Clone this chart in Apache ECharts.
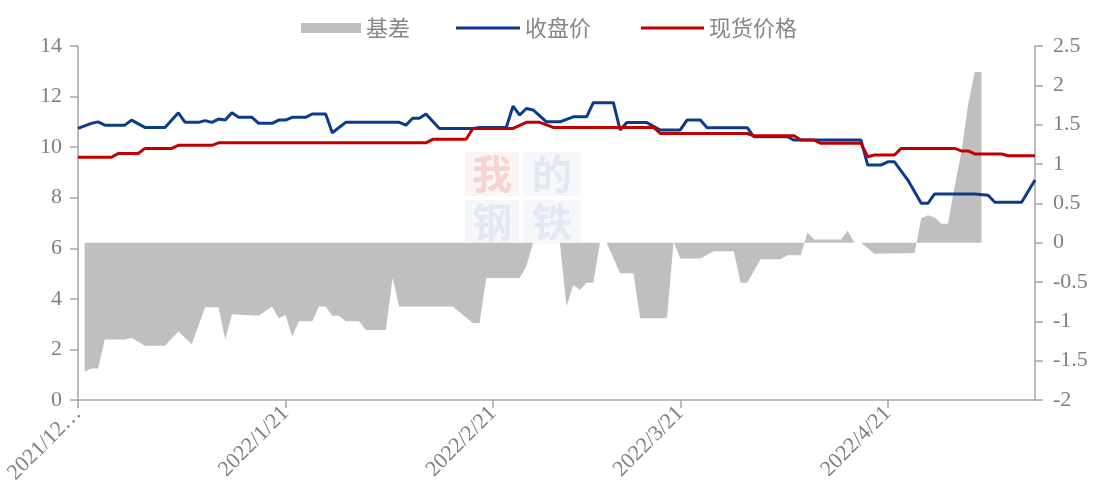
<!DOCTYPE html>
<html><head><meta charset="utf-8">
<script src="https://cdn.jsdelivr.net/npm/echarts@6/dist/echarts.min.js"></script>
<style>html,body{margin:0;padding:0;background:#fff}#c{width:1102px;height:504px}</style>
</head><body><div id="c"></div>
<script>
// ---- data ----
const firstDay = [2021, 12, 21];
const lastDay = [2022, 5, 13];
const tickDays = ['2021/12/21', '2022/1/21', '2022/2/21', '2022/3/21', '2022/4/21'];
const firstTickLabel = '2021/12…';
const seriesNames = ['基差', '收盘价', '现货价格'];

const closeDates = ['2021/12/21','2021/12/23','2021/12/24','2021/12/25','2021/12/28','2021/12/29','2021/12/31',
 '2022/1/3','2022/1/5','2022/1/6','2022/1/8','2022/1/9','2022/1/10','2022/1/11','2022/1/12','2022/1/13','2022/1/14',
 '2022/1/16','2022/1/17','2022/1/19','2022/1/20','2022/1/21','2022/1/22','2022/1/24','2022/1/25','2022/1/27','2022/1/28',
 '2022/1/30','2022/2/7','2022/2/8','2022/2/9','2022/2/10','2022/2/11','2022/2/13','2022/2/18','2022/2/19','2022/2/23',
 '2022/2/24','2022/2/25','2022/2/26','2022/2/27','2022/3/1','2022/3/3','2022/3/5','2022/3/7','2022/3/8','2022/3/11',
 '2022/3/12','2022/3/13','2022/3/16','2022/3/18','2022/3/21','2022/3/22','2022/3/24','2022/3/25','2022/3/31','2022/4/1',
 '2022/4/6','2022/4/7','2022/4/17','2022/4/18','2022/4/20','2022/4/21','2022/4/22','2022/4/24','2022/4/26','2022/4/27',
 '2022/4/28','2022/5/4','2022/5/6','2022/5/7','2022/5/11','2022/5/13'];
const closeValues = [10.74,10.94,11.0,10.87,10.87,11.07,10.78,
 10.78,11.36,10.98,10.98,11.05,10.98,11.11,11.07,11.36,11.18,
 11.18,10.94,10.94,11.07,11.07,11.18,11.18,11.31,11.31,10.57,
 10.98,10.98,10.87,11.14,11.14,11.31,10.74,10.74,10.78,10.78,
 11.62,11.27,11.53,11.47,11.0,11.0,11.2,11.2,11.76,11.76,
 10.68,10.97,10.97,10.68,10.68,11.07,11.07,10.77,10.77,10.41,
 10.41,10.28,10.28,9.29,9.29,9.42,9.42,8.7,7.78,7.78,
 8.15,8.15,8.1,7.82,7.82,8.7];

const spotDates = ['2021/12/21','2021/12/26','2021/12/27','2021/12/30','2021/12/31','2022/1/4','2022/1/5','2022/1/10',
 '2022/1/11','2022/2/11','2022/2/12','2022/2/17','2022/2/18','2022/2/24','2022/2/26','2022/2/28','2022/3/2','2022/3/17',
 '2022/3/18','2022/3/31','2022/4/1','2022/4/7','2022/4/8','2022/4/10','2022/4/11','2022/4/17','2022/4/18','2022/4/19',
 '2022/4/22','2022/4/23','2022/5/1','2022/5/2','2022/5/3','2022/5/4','2022/5/8','2022/5/9','2022/5/13'];
const spotValues = [9.6,9.6,9.75,9.75,9.95,9.95,10.07,10.07,
 10.17,10.17,10.31,10.31,10.74,10.74,10.98,10.98,10.78,10.78,
 10.54,10.54,10.45,10.45,10.28,10.28,10.15,10.15,9.62,9.69,
 9.69,9.95,9.95,9.85,9.85,9.73,9.73,9.66,9.66];

const basisDates = ['2021/12/22','2021/12/23','2021/12/24','2021/12/25','2021/12/28','2021/12/29','2021/12/31','2022/1/3',
 '2022/1/5','2022/1/7','2022/1/9','2022/1/11','2022/1/12','2022/1/13','2022/1/17','2022/1/19','2022/1/20','2022/1/21',
 '2022/1/22','2022/1/23','2022/1/25','2022/1/26','2022/1/27','2022/1/28','2022/1/29','2022/1/30','2022/2/1','2022/2/2',
 '2022/2/5','2022/2/6','2022/2/7','2022/2/15','2022/2/18','2022/2/19','2022/2/20','2022/2/25','2022/2/26','2022/2/27',
 '2022/3/2','2022/3/3','2022/3/4','2022/3/5','2022/3/6','2022/3/7','2022/3/8','2022/3/9','2022/3/10','2022/3/12',
 '2022/3/14','2022/3/15','2022/3/19','2022/3/20','2022/3/21','2022/3/24','2022/3/26','2022/3/29','2022/3/30','2022/3/31',
 '2022/4/2','2022/4/5','2022/4/6','2022/4/8','2022/4/9','2022/4/10','2022/4/14','2022/4/15','2022/4/16','2022/4/17',
 '2022/4/19','2022/4/25','2022/4/26','2022/4/27','2022/4/28','2022/4/29','2022/4/30','2022/5/1','2022/5/2','2022/5/3',
 '2022/5/4','2022/5/5'];
const basisValues = [-1.64,-1.6,-1.6,-1.23,-1.23,-1.21,-1.31,-1.31,
 -1.13,-1.29,-0.82,-0.82,-1.23,-0.91,-0.93,-0.81,-0.96,-0.92,
 -1.19,-1.0,-1.0,-0.81,-0.81,-0.93,-0.93,-1.0,-1.0,-1.11,
 -1.11,-0.45,-0.81,-0.81,-1.02,-1.02,-0.45,-0.45,-0.3,0,
 0,0,-0.81,-0.54,-0.6,-0.51,-0.51,0,0,-0.39,
 -0.39,-0.96,-0.96,0.01,-0.2,-0.2,-0.11,-0.11,-0.51,-0.51,
 -0.21,-0.21,-0.16,-0.16,0.13,0.04,0.04,0.15,0,0,
 -0.14,-0.13,0.31,0.35,0.32,0.24,0.24,0.72,1.15,1.75,
 2.17,2.17];

// ---- build ----
function fmt(d) { return d.getFullYear() + '/' + (d.getMonth() + 1) + '/' + d.getDate(); }
const dates = [];
for (let d = new Date(firstDay[0], firstDay[1] - 1, firstDay[2], 12); d <= new Date(lastDay[0], lastDay[1] - 1, lastDay[2], 12); d.setDate(d.getDate() + 1)) {
  dates.push(fmt(d));
}
const zip = (a, b) => a.map((x, i) => [x, b[i]]);

const grey = '#7f7f7f';
const axisColor = '#a6a6a6';
const numFont = { fontFamily: 'Liberation Serif', fontSize: 22, color: grey };
const legendFont = { fontFamily: 'Noto Sans CJK SC', fontSize: 22, color: '#868686' };
const showTick = (idx, val) => tickDays.indexOf(val) >= 0;

const chart = echarts.init(document.getElementById('c'));
chart.setOption({
  animation: false,
  backgroundColor: '#fff',
  grid: { left: 78, right: 67, top: 46, bottom: 104, containLabel: false },
  legend: [
    { left: 296, top: 12, itemWidth: 60, itemHeight: 10, data: [{ name: seriesNames[0], icon: 'rect' }], textStyle: legendFont },
    { left: 451, top: 12, itemWidth: 64, itemHeight: 3, data: [{ name: seriesNames[1], icon: 'rect' }], textStyle: legendFont },
    { left: 636, top: 12, itemWidth: 63, itemHeight: 3, data: [{ name: seriesNames[2], icon: 'rect' }], textStyle: legendFont }
  ],
  xAxis: {
    type: 'category', data: dates, boundaryGap: false,
    axisLine: { onZero: false, lineStyle: { color: axisColor, width: 1.5 } },
    axisTick: { show: true, interval: showTick, length: 8, lineStyle: { color: axisColor, width: 1.5 } },
    axisLabel: Object.assign({ interval: showTick, rotate: 45, margin: 10,
      formatter: (v, i) => (v === tickDays[0] ? firstTickLabel : v) }, numFont),
    splitLine: { show: false }
  },
  yAxis: [
    { type: 'value', min: 0, max: 14, interval: 2, position: 'left',
      axisLine: { show: true, lineStyle: { color: axisColor, width: 1.5 } },
      axisTick: { show: true, length: 8, lineStyle: { color: axisColor, width: 1.5 } },
      axisLabel: Object.assign({ margin: 16 }, numFont),
      splitLine: { show: false } },
    { type: 'value', min: -2, max: 2.5, interval: 0.5, position: 'right',
      axisLine: { show: true, lineStyle: { color: axisColor, width: 1.5 } },
      axisTick: { show: true, length: 8, lineStyle: { color: axisColor, width: 1.5 } },
      axisLabel: Object.assign({ margin: 18 }, numFont),
      splitLine: { show: false } }
  ],
  graphic: {
    elements: [
      { type: 'group', left: 465, top: 152, z: -10, silent: true, children: [
        { type: 'rect', shape: { x: 0, y: 0, width: 54, height: 44 }, style: { fill: '#fdf4f4' } },
        { type: 'rect', shape: { x: 58, y: 0, width: 58, height: 44 }, style: { fill: '#f6f7fb' } },
        { type: 'rect', shape: { x: 0, y: 48, width: 54, height: 44 }, style: { fill: '#f6f7fb' } },
        { type: 'rect', shape: { x: 58, y: 48, width: 58, height: 44 }, style: { fill: '#f6f7fb' } },
        { type: 'text', x: 27, y: 22, style: { text: '我', fill: '#f7d3d3', font: 'bold 40px "Noto Sans CJK SC"', align: 'center', verticalAlign: 'middle' } },
        { type: 'text', x: 87, y: 22, style: { text: '的', fill: '#e3e8f2', font: 'bold 40px "Noto Sans CJK SC"', align: 'center', verticalAlign: 'middle' } },
        { type: 'text', x: 27, y: 70, style: { text: '钢', fill: '#e3e8f2', font: 'bold 40px "Noto Sans CJK SC"', align: 'center', verticalAlign: 'middle' } },
        { type: 'text', x: 87, y: 70, style: { text: '铁', fill: '#e3e8f2', font: 'bold 40px "Noto Sans CJK SC"', align: 'center', verticalAlign: 'middle' } }
      ] }
    ]
  },
  series: [
    { name: seriesNames[0], type: 'line', yAxisIndex: 1, data: zip(basisDates, basisValues),
      symbol: 'none', color: '#bfbfbf', lineStyle: { width: 0 },
      areaStyle: { color: '#bfbfbf', opacity: 1 }, z: 1 },
    { name: seriesNames[1], type: 'line', yAxisIndex: 0, data: zip(closeDates, closeValues),
      symbol: 'none', color: '#0b3c8c', lineStyle: { width: 3, color: '#0b3c8c' }, z: 3 },
    { name: seriesNames[2], type: 'line', yAxisIndex: 0, data: zip(spotDates, spotValues),
      symbol: 'none', color: '#c00000', lineStyle: { width: 3, color: '#c00000' }, z: 4 }
  ]
});
</script></body></html>
